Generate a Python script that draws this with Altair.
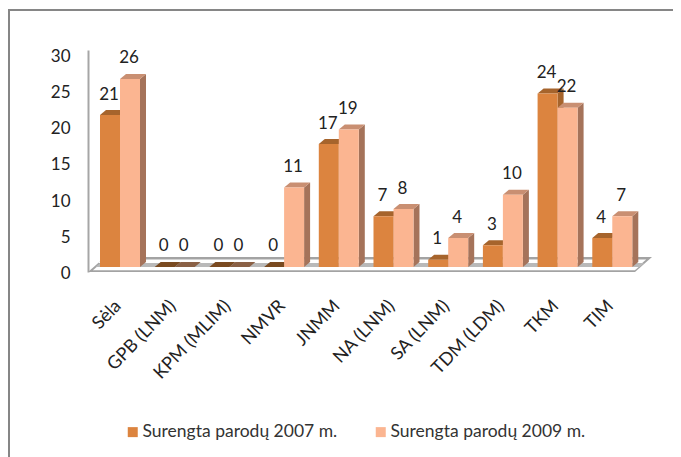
import altair as alt
import pandas as pd

categories = ["Sėla", "GPB (LNM)", "KPM (MLIM)", "NMVR", "JNMM", "NA (LNM)", "SA (LNM)", "TDM (LDM)", "TKM", "TIM"]
values_2007 = [21, 0, 0, 0, 17, 7, 1, 3, 24, 4]
values_2009 = [26, 0, 0, 11, 19, 8, 4, 10, 22, 7]
series_names = ["Surengta parodų 2007 m.", "Surengta parodų 2009 m."]
y_ticks = [0, 5, 10, 15, 20, 25, 30]

FRONT = ["#dc843f", "#fbb591"]
TOP = ["#a6642c", "#c98f72"]
SIDE = ["#a6642c", "#a5735a"]
ZERO_TOP = ["#7a4a20", "#8a6045"]

PW, PH = 564, 222
XMIN, XMAX = -0.585, 9.726
YMIN, YMAX = -0.7, 30.0
XU = PW / (XMAX - XMIN)
YU = PH / (YMAX - YMIN)
BAR = 20 / XU
DX = 6 / XU
DY = 5 / YU

x_scale = alt.Scale(domain=[XMIN, XMAX], nice=False, zero=False, padding=0)
y_scale = alt.Scale(domain=[YMIN, YMAX], nice=False, zero=False, padding=0)


def para(l, r, y, dx, dy):
    return [
        {"x": l, "y": y, "y2": y},
        {"x": l + dx, "y": y, "y2": y + dy},
        {"x": r, "y": y, "y2": y + dy},
        {"x": r + dx, "y": y + dy, "y2": y + dy},
    ]


def px_x(p):
    return XMIN + (p - 88) / XU


def px_y(p):
    return (267 - p) / YU


def floor_band(top_px, bottom_px, inset_l, inset_r):
    k = 17 / 15
    l = px_x(88 + (272 - bottom_px) * k + inset_l)
    r = px_x(635 + (272 - bottom_px) * k - inset_r)
    dx = (bottom_px - top_px) * k / XU
    return para(l, r, px_y(bottom_px), dx, (bottom_px - top_px) / YU)


def x_enc(f="x"):
    return alt.X(f"{f}:Q", scale=x_scale, title=None)


def y_enc(f="y"):
    return alt.Y(f"{f}:Q", scale=y_scale, title=None)


def area(rows, color):
    return alt.Chart(pd.DataFrame(rows)).mark_area(color=color, strokeWidth=0, interpolate="linear", opacity=1).encode(
        x=x_enc(), y=y_enc(), y2="y2:Q"
    )


axis_layer = (
    alt.Chart(pd.DataFrame({"x": list(range(len(categories))), "y": [0] * len(categories)}))
    .mark_point(opacity=0)
    .encode(
        x=alt.X(
            "x:Q",
            scale=x_scale,
            title=None,
            axis=alt.Axis(
                values=list(range(len(categories))),
                labelExpr="[" + ",".join(f"'{c}'" for c in categories) + "][datum.value]",
                labelAngle=-46,
                labelAlign="right",
                labelBaseline="middle",
                labelPadding=31,
                labelOffset=-2,
                labelFont="Lato",
                labelFontSize=18,
                labelColor="#222222",
                labelOverlap=False,
                labelBound=False,
                labelFlush=False,
                domain=False,
                ticks=False,
                grid=False,
            ),
        ),
        y=alt.Y(
            "y:Q",
            scale=y_scale,
            title=None,
            axis=alt.Axis(
                values=y_ticks,
                tickCount=7,
                labelFont="Lato",
                labelFontSize=17,
                labelColor="#222222",
                labelPadding=18,
                labelOffset=6.5,
                labelOverlap=False,
                labelBound=False,
                labelFlush=False,
                ticks=False,
                grid=False,
                domain=True,
                domainColor="#a6a6a6",
                domainWidth=2,
            ),
        ),
    )
)

layers = [axis_layer]
layers.append(area(floor_band(257, 272, 0, 0), "#a3a3a3"))
layers.append(area(floor_band(259.5, 263, 0, 3), "#ffffff"))
layers.append(area(floor_band(263, 267, 2, 1), "#b9b9b9"))
layers.append(area(floor_band(267, 270.3, 3, 2), "#ffffff"))

label_layers = []
for s, (vals, name) in enumerate(zip([values_2007, values_2009], series_names)):
    sides, tops, zero_tops, fronts, labels = [], [], [], [], []
    for i, v in enumerate(vals):
        l = i - BAR + s * BAR
        r = l + BAR
        sides += [
            {"b": i, "x": r, "y": v, "y2": 0},
            {"b": i, "x": r + DX, "y": v + DY, "y2": DY},
        ]
        rows = [dict(row, b=i) for row in para(l, r, v, DX, DY)]
        (zero_tops if v == 0 else tops).extend(rows)
        fronts.append({"series": name, "x": l, "x2": r, "y": v, "y2": 0})
        labels.append({"x": (l + r) / 2 - 1 / XU, "y": v, "t": str(v)})
    layers.append(
        alt.Chart(pd.DataFrame(sides)).mark_area(color=SIDE[s], strokeWidth=0, opacity=1).encode(
            x=x_enc(), y=y_enc(), y2="y2:Q", detail="b:N"
        )
    )
    for rows, col in ((tops, TOP[s]), (zero_tops, ZERO_TOP[s])):
        if rows:
            layers.append(
                alt.Chart(pd.DataFrame(rows)).mark_area(color=col, strokeWidth=0, opacity=1).encode(
                    x=x_enc(), y=y_enc(), y2="y2:Q", detail="b:N"
                )
            )
    layers.append(
        alt.Chart(pd.DataFrame(fronts)).mark_rect(strokeWidth=0).encode(
            x=x_enc(),
            x2="x2:Q",
            y=y_enc(),
            y2="y2:Q",
            color=alt.Color(
                "series:N",
                scale=alt.Scale(domain=series_names, range=FRONT),
                legend=alt.Legend(
                    title=None,
                    orient="none",
                    legendX=36,
                    legendY=373,
                    direction="horizontal",
                    columns=2,
                    columnPadding=34,
                    symbolType="square",
                    symbolSize=100,
                    symbolStrokeWidth=0,
                    symbolOpacity=1,
                    labelFont="Lato",
                    labelFontSize=17.5,
                    labelColor="#333333",
                    labelOffset=1,
                    labelLimit=300,
                ),
            ),
        )
    )
    label_layers.append(
        alt.Chart(pd.DataFrame(labels)).mark_text(
            font="Lato", fontSize=17, color="#222222", baseline="middle", align="center", dy=-20.5
        ).encode(x=x_enc(), y=y_enc(), text="t:N")
    )

frame_color = "#868686"
frame_left = alt.Chart(pd.DataFrame({"a": [0]})).mark_rule(color=frame_color, strokeWidth=2).encode(
    x=alt.value(-79), y=alt.value(-41), y2=alt.value(407)
)
frame_top = alt.Chart(pd.DataFrame({"a": [0]})).mark_rule(color=frame_color, strokeWidth=2).encode(
    x=alt.value(-80), x2=alt.value(PW + 21), y=alt.value(-40)
)

chart = (
    alt.layer(*layers, *label_layers, frame_left, frame_top)
    .resolve_scale(color="shared")
    .properties(
        width=PW,
        height=PH,
        autosize=alt.AutoSizeParams(type="none"),
        padding={"left": 80, "top": 42, "right": 21, "bottom": 185},
        background="#ffffff",
    )
    .configure_view(stroke=None)
    .configure_axis(labelOverlap=False)
    .configure_axisY(labelOverlap=False, labelSeparation=0)
)

chart.save("out.html", embed_options={"renderer": "svg", "actions": False})
